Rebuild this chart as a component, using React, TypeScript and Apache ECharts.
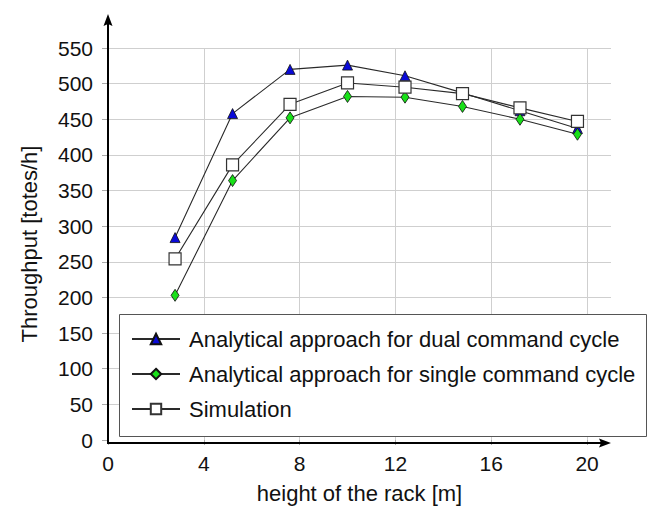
import React, { useEffect, useRef } from "react";
import * as echarts from "echarts";

const rackHeights = [2.8, 5.2, 7.6, 10, 12.4, 14.8, 17.2, 19.6];
const dualCycle = [284, 458, 520, 526, 511, 487, 462, 437];
const singleCycle = [203, 364, 452, 482, 481, 468, 450, 429];
const simulation = [254, 386, 471, 501, 495, 486, 466, 447];

const seriesNames = [
  "Analytical approach for dual command cycle",
  "Analytical approach for single command cycle",
  "Simulation",
];

const FONT = "Liberation Sans";
const GRID = { left: 108, right: 37, top: 48, bottom: 66 };
const W = 648;
const H = 509;

export default function App() {
  const ref = useRef<HTMLDivElement>(null);
  useEffect(() => {
    if (!ref.current) return;
    const chart = echarts.init(ref.current, undefined, { renderer: "svg" });
    const lineStyle = { color: "#2a2a2a", width: 1.1 };
    const pairs = (ys: number[]) => rackHeights.map((x, i) => [x, ys[i]]);
    const axisBottom = H - GRID.bottom;
    const axisLeft = GRID.left;
    chart.setOption({
      animation: false,
      textStyle: { fontFamily: FONT },
      grid: { left: GRID.left, right: GRID.right, top: GRID.top, bottom: GRID.bottom },
      xAxis: {
        type: "value",
        min: 0,
        max: 21,
        interval: 4,
        name: "height of the rack [m]",
        nameLocation: "middle",
        nameGap: 42,
        nameTextStyle: { fontSize: 22, color: "#111", fontFamily: FONT },
        axisLine: { show: false },
        axisTick: { show: true, length: 5, lineStyle: { color: "#aaa" } },
        axisLabel: { fontSize: 21, color: "#111", margin: 13, showMaxLabel: false, fontFamily: FONT },
        splitLine: { show: true, showMinLine: false, showMaxLine: false, lineStyle: { color: "#cfcfcf", width: 1 } },
      },
      yAxis: {
        type: "value",
        min: 0,
        max: 550,
        interval: 50,
        name: "Throughput [totes/h]",
        nameLocation: "middle",
        nameGap: 68,
        nameTextStyle: { fontSize: 22, color: "#111", fontFamily: FONT },
        axisLine: { show: false },
        axisTick: { show: true, length: 6, lineStyle: { color: "#aaa" } },
        axisLabel: { fontSize: 21, color: "#111", margin: 15, fontFamily: FONT },
        splitLine: { show: true, showMinLine: false, lineStyle: { color: "#cfcfcf", width: 1 } },
      },
      legend: {
        orient: "vertical",
        left: 131,
        top: 326,
        padding: 0,
        itemWidth: 48,
        itemHeight: 13,
        itemGap: 9,
        selectedMode: false,
        z: 6,
        textStyle: { fontSize: 22, color: "#111", lineHeight: 26, fontFamily: FONT, padding: [0, 0, 0, 4] },
        data: seriesNames,
      },
      graphic: [
        {
          type: "rect",
          z: 5,
          shape: { x: 119.5, y: 314.5, width: 527, height: 122 },
          style: { fill: "#fff", stroke: "#555", lineWidth: 1 },
        },
        {
          type: "line",
          z: 7,
          shape: { x1: axisLeft, y1: axisBottom + 1, x2: axisLeft, y2: 22 },
          style: { stroke: "#000", lineWidth: 2 },
        },
        {
          type: "polygon",
          z: 7,
          shape: { points: [[axisLeft, 14], [axisLeft + 4.5, 26], [axisLeft, 24], [axisLeft - 4.5, 26]] },
          style: { fill: "#000" },
        },
        {
          type: "line",
          z: 7,
          shape: { x1: axisLeft - 1, y1: axisBottom, x2: 602, y2: axisBottom },
          style: { stroke: "#000", lineWidth: 2 },
        },
        {
          type: "polygon",
          z: 7,
          shape: { points: [[611, axisBottom], [599, axisBottom - 4.5], [601, axisBottom], [599, axisBottom + 4.5]] },
          style: { fill: "#000" },
        },
      ],
      series: [
        {
          name: seriesNames[0],
          type: "line",
          data: pairs(dualCycle),
          symbol: "triangle",
          symbolSize: 10,
          lineStyle,
          itemStyle: { color: "#0a0ad8", borderColor: "#111", borderWidth: 0.8 },
          z: 2,
        },
        {
          name: seriesNames[1],
          type: "line",
          data: pairs(singleCycle),
          symbol: "diamond",
          symbolSize: [8, 12],
          lineStyle,
          itemStyle: { color: "#18e018", borderColor: "#111", borderWidth: 0.8 },
          z: 3,
        },
        {
          name: seriesNames[2],
          type: "line",
          data: pairs(simulation),
          symbol: "rect",
          symbolSize: 12,
          lineStyle,
          itemStyle: { color: "#fff", borderColor: "#333", borderWidth: 1.2 },
          z: 4,
        },
      ],
    });
    return () => chart.dispose();
  }, []);
  return <div ref={ref} style={{ width: W, height: H, position: "absolute", left: 0, top: 0 }} />;
}
